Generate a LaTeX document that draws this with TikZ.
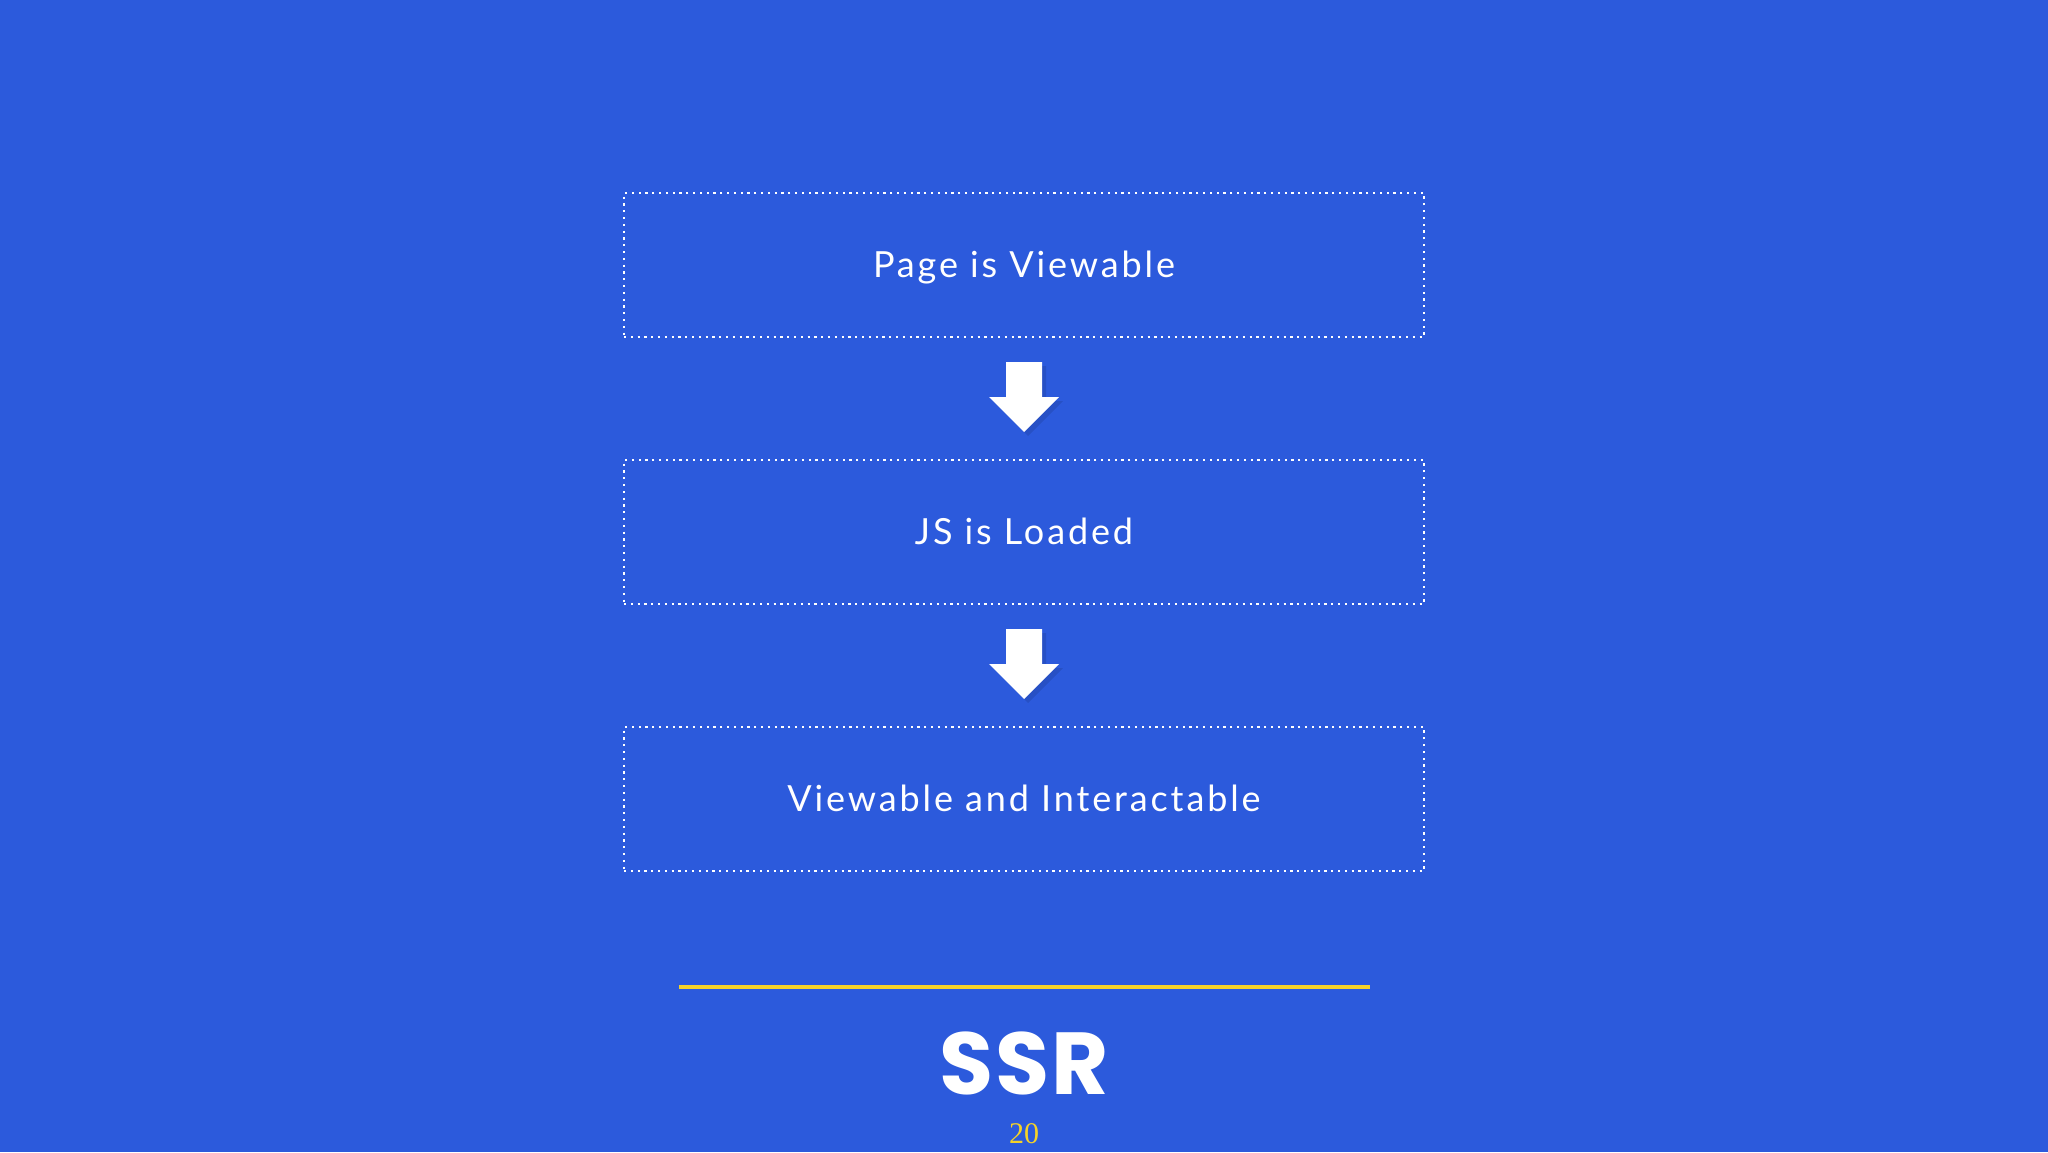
\documentclass[tikz,border=0pt]{standalone}
\usepackage{fontspec}
\setmainfont{Lato}[LetterSpace=8]
\newfontfamily\titlefont{Poppins}[LetterSpace=2]
\newfontfamily\numfont{Liberation Serif}
\definecolor{bgblue}{RGB}{44,90,220}
\definecolor{lineyellow}{RGB}{245,210,40}
\tikzset{
  stepbox/.style={draw=white, line width=1.1pt, dash pattern=on 1.1pt off 2.3pt, minimum width=400pt, minimum height=72pt, inner sep=0pt, text height=12.8pt, text depth=0pt, text=white, font=\fontsize{18}{20}\selectfont},
}
\begin{document}
\begin{tikzpicture}[x=0.5pt,y=-0.5pt]
\useasboundingbox (0,0) rectangle (2048,1152);
\fill[bgblue] (0,0) rectangle (2048,1152);
\node[stepbox] (b1) at (1024,265) {Page is Viewable};
\node[stepbox] (b2) at (1024,532) {JS is Loaded};
\node[stepbox] (b3) at (1024,799) {Viewable and Interactable};
\foreach \n/\y in {a1/362, a2/629}{
  \fill[black, opacity=0.10] (1010,\y+4) -- (1046,\y+4) -- (1046,\y+39) -- (1063,\y+39) -- (1028,\y+74) -- (993,\y+39) -- (1010,\y+39) -- cycle;
  \fill[white] (1006,\y) -- (1042,\y) -- (1042,\y+35) -- (1059,\y+35) -- (1024,\y+70) -- (989,\y+35) -- (1006,\y+35) -- cycle;
}
\coordinate (l1) at (679,987);
\coordinate (l2) at (1370,987);
\draw[lineyellow, line width=2pt] (l1) -- (l2);
\node[text=white, font=\titlefont\bfseries\fontsize{44}{50}\selectfont, inner sep=0pt, text height=31pt, text depth=0pt] (ssr) at (1024,1063) {SSR};
\node[text=lineyellow, font=\numfont\fontsize{15}{17}\selectfont, inner sep=0pt, anchor=base] (pg) at (1024,1143) {20};
\end{tikzpicture}
\end{document}
